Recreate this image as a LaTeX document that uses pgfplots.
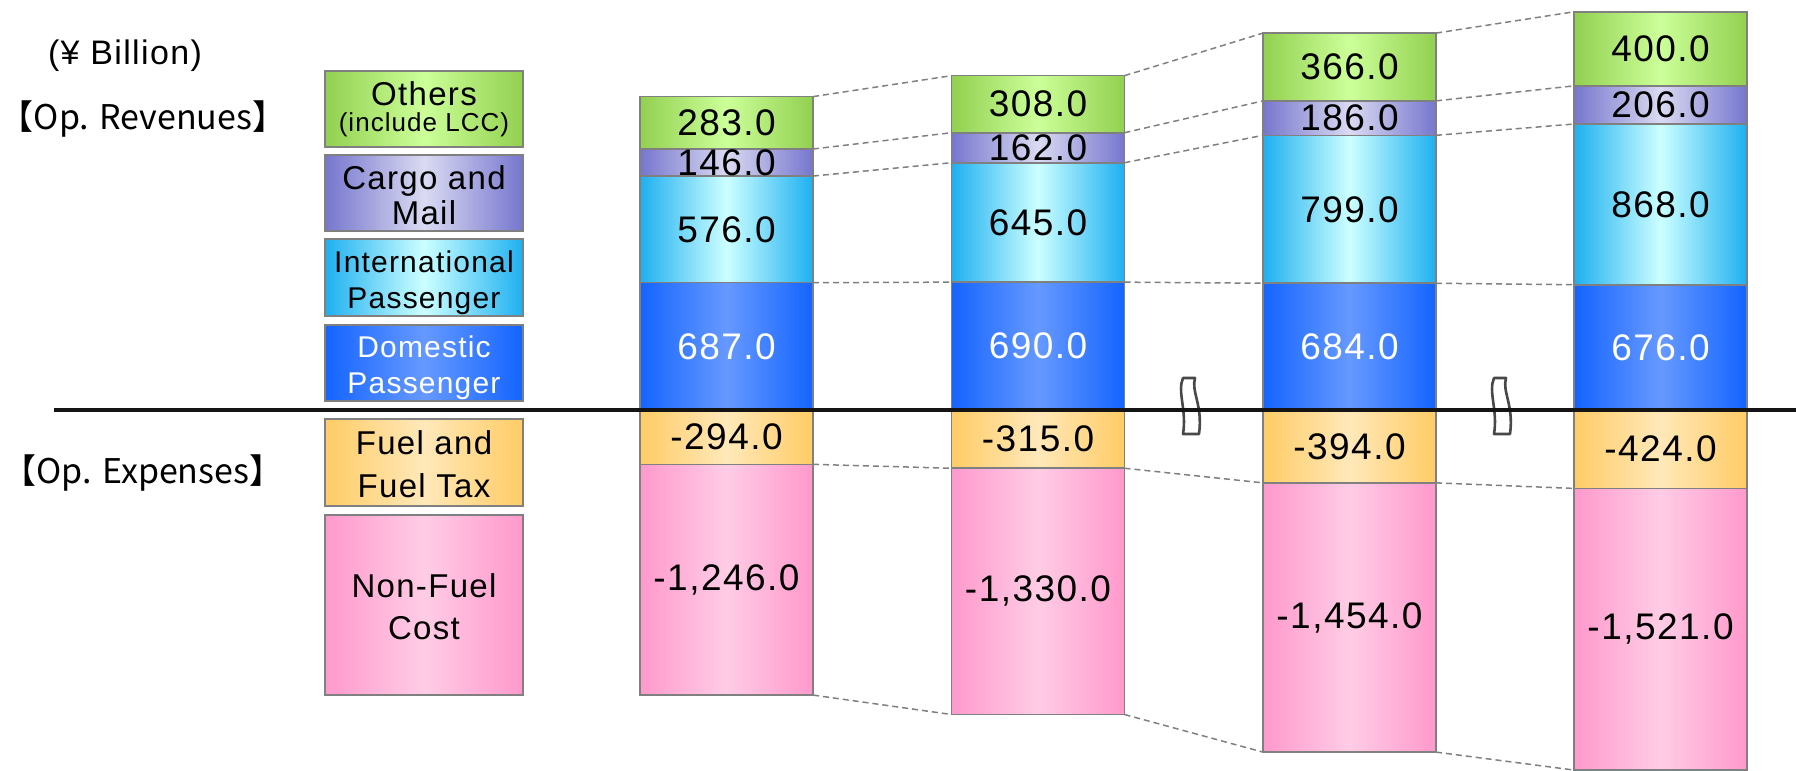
\documentclass[border=0pt]{standalone}
\usepackage{pgfplots}
\pgfplotsset{compat=1.18}
\usepackage{fontspec}
\setmainfont{Liberation Sans}[LetterSpace=4]
\newfontfamily\cjk{Noto Sans CJK JP}

\definecolor{grnE}{RGB}{146,208,80}
\definecolor{grnM}{RGB}{204,255,153}
\definecolor{purE}{RGB}{118,118,206}
\definecolor{purM}{RGB}{218,218,242}
\definecolor{cyaE}{RGB}{30,176,240}
\definecolor{cyaM}{RGB}{204,255,255}
\definecolor{bluE}{RGB}{20,100,255}
\definecolor{bluM}{RGB}{102,153,255}
\definecolor{orgE}{RGB}{255,204,102}
\definecolor{orgM}{RGB}{255,232,185}
\definecolor{pnkE}{RGB}{255,153,204}
\definecolor{pnkM}{RGB}{255,204,229}
\definecolor{edge}{RGB}{128,128,128}
\definecolor{brk}{RGB}{72,72,72}

\pgfplotsset{
  conn/.style={sharp plot, no marks, dash pattern=on 3pt off 2pt, draw=edge, line width=0.75pt, unbounded coords=jump},
  frame/.style={
    at={(0,0)}, anchor=south west,
    scale only axis, width=898pt, height=385.5pt,
    xmin=0, xmax=1796, ymin=-1950, ymax=2213.8,
    hide axis, clip=false,
  },
  stackframe/.style={frame, ybar stacked, bar width=173},
}

% one stacked segment: x, value, edge colour, middle colour, text colour
\newcommand{\seg}[5]{%
  \addplot[left color=#3, right color=#3, middle color=#4, draw=edge, line width=0.8pt,
    nodes near coords={\pgfmathprintnumber[fixed,fixed zerofill,precision=1,1000 sep={,},assume math mode=true]{#2}},
    every node near coord/.style={anchor=center,
      text=#5, inner sep=0pt, font=\fontsize{18.5}{21}\selectfont}]
    coordinates {(#1,#2)};}
% revenues bar: x, domestic, international, cargo, others
\newcommand{\revbar}[5]{%
  \begin{axis}[stackframe]
  \seg{#1}{#2}{bluE}{bluM}{white}
  \seg{#1}{#3}{cyaE}{cyaM}{black}
  \seg{#1}{#4}{purE}{purM}{black}
  \seg{#1}{#5}{grnE}{grnM}{black}
  \end{axis}}
% expenses bar: x, fuel, non-fuel
\newcommand{\expbar}[3]{%
  \begin{axis}[stackframe]
  \seg{#1}{#2}{orgE}{orgM}{black}
  \seg{#1}{#3}{pnkE}{pnkM}{black}
  \end{axis}}

\newcommand{\legbox}[3]{%
  \draw[left color=#1, right color=#1, middle color=#2, draw=edge, line width=0.8pt] #3;}
\newcommand{\brksym}[1]{%
  \draw[line width=1.3pt, draw=brk, fill=white, line join=round]
    (#1-8,378) -- (#1+4,378) .. controls (#1+0,392) and (#1+12,405) .. (#1+8,434)
    -- (#1-8,434) .. controls (#1-4,410) and (#1-14,392) .. cycle;}

\begin{document}
\begin{tikzpicture}
\useasboundingbox (0,0) rectangle (898pt,385.5pt);
\begin{scope}[x=0.5pt, y=-0.5pt, shift={(0,385.5pt)}]
  \brksym{1191}
  \brksym{1502}
\end{scope}

\revbar{726.5}{687}{576}{146}{283}
\revbar{1038}{690}{645}{162}{308}
\revbar{1349.5}{684}{799}{186}{366}
\revbar{1660.5}{676}{868}{206}{400}
\expbar{726.5}{-294}{-1246}
\expbar{1038}{-315}{-1330}
\expbar{1349.5}{-394}{-1454}
\expbar{1660.5}{-424}{-1521}

% connectors between bars and the zero line
\begin{axis}[frame]
\addplot[conn] coordinates {
 (813,687) (951.5,690) (nan,nan) (813,1263) (951.5,1335) (nan,nan) (813,1409) (951.5,1497) (nan,nan) (813,1692) (951.5,1805) (nan,nan) (813,-294) (951.5,-315) (nan,nan) (813,-1540) (951.5,-1645) (nan,nan)
 (1124.5,690) (1263,684) (nan,nan) (1124.5,1335) (1263,1483) (nan,nan) (1124.5,1497) (1263,1669) (nan,nan) (1124.5,1805) (1263,2035) (nan,nan) (1124.5,-315) (1263,-394) (nan,nan) (1124.5,-1645) (1263,-1848) (nan,nan)
 (1436,684) (1574,676) (nan,nan) (1436,1483) (1574,1544) (nan,nan) (1436,1669) (1574,1750) (nan,nan) (1436,2035) (1574,2150) (nan,nan) (1436,-394) (1574,-424) (nan,nan) (1436,-1848) (1574,-1945)
};
\addplot[sharp plot, no marks, line width=1.7pt, black!92] coordinates {(54,0) (1796,0)};
\end{axis}

\begin{scope}[x=0.5pt, y=-0.5pt, shift={(0,385.5pt)}]
  \legbox{grnE}{grnM}{(325,71) rectangle (523,147)}
  \legbox{purE}{purM}{(325,155) rectangle (523,231)}
  \legbox{cyaE}{cyaM}{(325,239) rectangle (523,316)}
  \legbox{bluE}{bluM}{(325,325) rectangle (523,401)}
  \legbox{orgE}{orgM}{(325,419) rectangle (523,506)}
  \legbox{pnkE}{pnkM}{(325,515) rectangle (523,695)}
  \tikzset{lt/.style={anchor=base, inner sep=0pt, font=\fontsize{16.5}{18}\selectfont}}
  \node[lt] at (424,106) {Others};
  \node[lt, font=\fontsize{13}{15}\selectfont] at (424,132) {(include LCC)};
  \node[lt] at (424,190) {Cargo and};
  \node[lt] at (424,225) {Mail};
  \node[lt, font=\fontsize{15}{17}\selectfont] at (424,273) {International};
  \node[lt, font=\fontsize{15}{17}\selectfont] at (424,309) {Passenger};
  \node[lt, font=\fontsize{15}{17}\selectfont, text=white] at (424,358) {Domestic};
  \node[lt, font=\fontsize{15}{17}\selectfont, text=white] at (424,394) {Passenger};
  \node[lt] at (424,455) {Fuel and};
  \node[lt] at (424,498) {Fuel Tax};
  \node[lt] at (424,598) {Non-Fuel};
  \node[lt] at (424,640) {Cost};
  \node[anchor=base, inner sep=0pt, font=\fontsize{17}{19}\selectfont] at (125,65) {(¥ Billion)};
  \node[anchor=base, inner sep=0pt, font=\fontsize{17}{19}\selectfont] at (143,130) {\cjk{【}Op. Revenues\cjk{】}};
  \node[anchor=base, inner sep=0pt, font=\fontsize{17}{19}\selectfont] at (143,484) {\cjk{【}Op. Expenses\cjk{】}};
\end{scope}
\end{tikzpicture}
\end{document}
